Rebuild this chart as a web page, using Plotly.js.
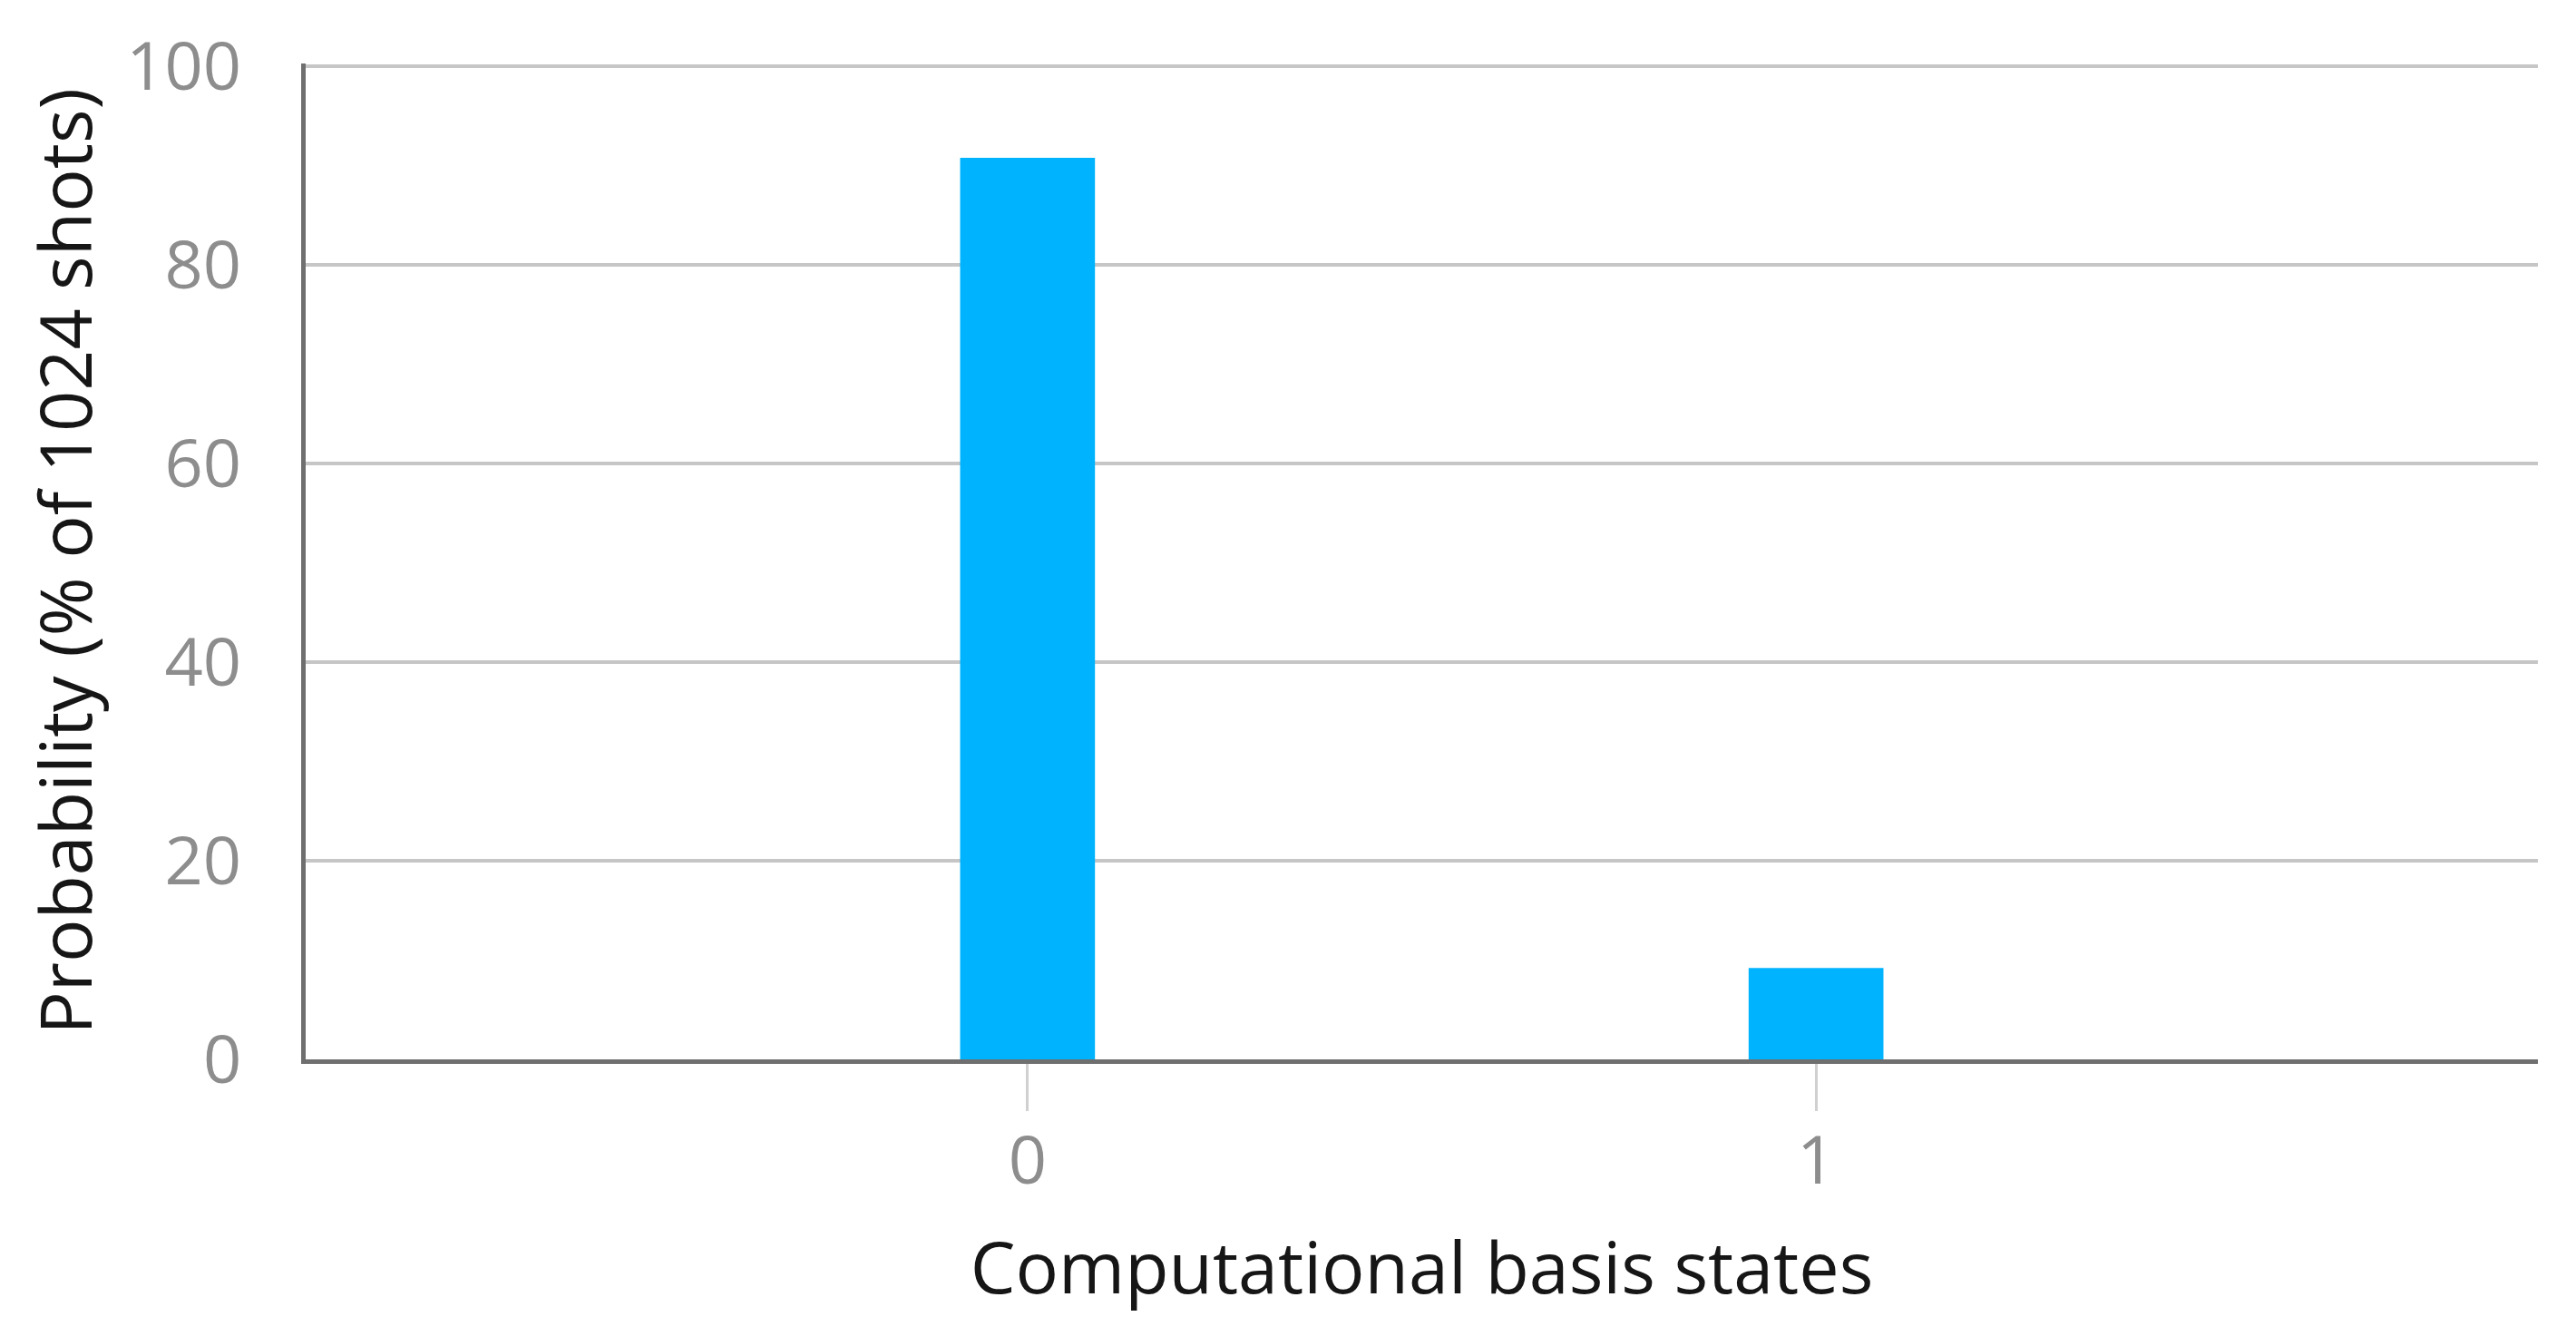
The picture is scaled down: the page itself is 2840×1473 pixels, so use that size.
<!DOCTYPE html>
<html>
<head>
<meta charset="utf-8">
<script src="https://cdn.plot.ly/plotly-3.0.1.min.js"></script>
<style>html,body{margin:0;padding:0;background:#fff;}#chart{width:2840px;height:1473px;}</style>
</head>
<body>
<div id="chart"></div>
<script>
const states = ['0', '1'];
const probabilities = [90.8, 9.2];
const yTicks = [0, 20, 40, 60, 80, 100];
const xTitle = 'Computational basis states';
const yTitle = 'Probability (% of 1024 shots)';

const FONT = 'Open Sans, Noto Sans, sans-serif';

Plotly.newPlot('chart', [{
  type: 'bar',
  x: [0, 1],
  y: probabilities,
  width: 0.171,
  marker: {color: '#00b3ff', line: {width: 0}},
  hoverinfo: 'none'
}], {
  width: 2840, height: 1473,
  margin: {l: 337, r: 42, t: 70, b: 305},
  paper_bgcolor: '#ffffff', plot_bgcolor: '#ffffff',
  showlegend: false,
  font: {family: FONT},
  xaxis: {
    range: [-0.9155, 1.9155],
    tickvals: [0, 1],
    ticktext: states,
    showgrid: false,
    zeroline: false,
    showline: true, linecolor: '#6f6f6f', linewidth: 5,
    ticks: 'outside', ticklen: 52, tickwidth: 3, tickcolor: '#d0d0d0',
    ticklabelstandoff: -9,
    tickfont: {family: FONT, size: 74, color: '#8d8d8d'},
    title: {text: xTitle, font: {family: FONT, size: 79, color: '#161616'}, standoff: 46},
    automargin: false
  },
  yaxis: {
    range: [0, 100.3],
    tickvals: yTicks,
    ticktext: yTicks.map(String),
    showgrid: true, gridcolor: '#c6c6c6', gridwidth: 4,
    zeroline: false,
    showline: true, linecolor: '#6f6f6f', linewidth: 5,
    ticks: '',
    ticklabelstandoff: 51,
    tickfont: {family: FONT, size: 74, color: '#8d8d8d'},
    title: {text: yTitle, font: {family: FONT, size: 79, color: '#161616'}, standoff: 13},
    automargin: false
  }
}, {staticPlot: true, displayModeBar: false});
</script>
</body>
</html>
